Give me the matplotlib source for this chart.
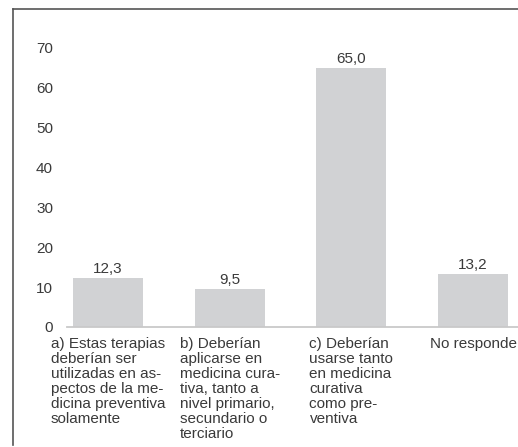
import matplotlib.pyplot as plt
from matplotlib.lines import Line2D

plt.rcParams['font.family'] = ['Liberation Sans', 'DejaVu Sans']

categories = [
    "a) Estas terapias\ndeberían ser\nutilizadas en as-\npectos de la me-\ndicina preventiva\nsolamente",
    "b) Deberían\naplicarse en\nmedicina cura-\ntiva, tanto a\nnivel primario,\nsecundario o\nterciario",
    "c) Deberían\nusarse tanto\nen medicina\ncurativa\ncomo pre-\nventiva",
    "No responde",
]
values = [12.3, 9.5, 65.0, 13.2]
yticks = [0, 10, 20, 30, 40, 50, 60, 70]

text_color = '#3a3a3a'
bar_color = '#d1d2d4'
fs = 11

W, H = 518, 447
fig = plt.figure(figsize=(W / 100, H / 100), dpi=100)
ax = fig.add_axes([67 / W, 1 - 327 / H, 1 - 67 / W, 319 / H])

x = list(range(len(values)))
bars = ax.bar(x, values, width=0.575, color=bar_color)
ax.set_xlim(-0.337, 3.369)
ax.set_ylim(0, 80)

# value labels with comma decimal
for xi, v in zip(x, values):
    ax.annotate(f"{v:.1f}".replace('.', ','), (xi, v), xytext=(0, 1.5),
                textcoords='offset points', ha='center', va='bottom',
                fontsize=fs, color=text_color)

ax.set_yticks(yticks)
ax.set_yticklabels([str(t) for t in yticks], fontsize=fs, color=text_color)
ax.tick_params(axis='y', length=0, pad=10)
ax.set_xticks([])

for side in ['top', 'right', 'left']:
    ax.spines[side].set_visible(False)
ax.spines['bottom'].set_color('#c9c9c9')
ax.spines['bottom'].set_linewidth(1.3)

# category labels, left-aligned blocks under each bar
for xi, lab in zip(x, categories):
    ax.text(xi, -2.6, lab, ha='center', va='top', multialignment='left',
            fontsize=fs, color=text_color, linespacing=1.08)

# outer frame (left and top edges visible)
fig.add_artist(Line2D([12.5 / W, 12.5 / W], [1 - 445 / H, 1 - 8.5 / H],
                      transform=fig.transFigure, color='#555555', lw=1.2))
fig.add_artist(Line2D([12.5 / W, 1.0], [1 - 8.5 / H, 1 - 8.5 / H],
                      transform=fig.transFigure, color='#555555', lw=1.2))

fig.savefig('out.png', dpi=100)
